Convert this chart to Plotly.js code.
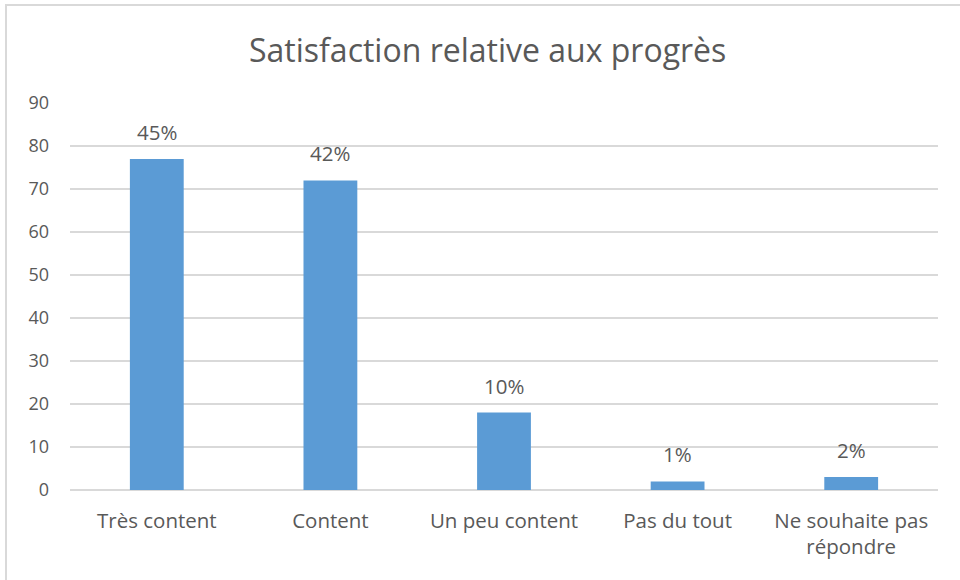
<!DOCTYPE html>
<html>
<head>
<meta charset="utf-8">
<script src="https://cdn.plot.ly/plotly-3.0.1.min.js"></script>
<style>
  html, body { margin: 0; padding: 0; background: #ffffff; }
  #chart { position: absolute; left: 0; top: 0; width: 960px; height: 580px; }
  #frame { position: absolute; left: 5px; top: 4px; width: 960px; height: 580px;
           border-top: 2px solid #d9d9d9; border-left: 2px solid #d9d9d9;
           pointer-events: none; box-sizing: border-box; }
</style>
</head>
<body>
<div id="chart"></div>
<div id="frame"></div>
<script>
// Réponses à la question sur la satisfaction relative aux progrès
const categories = ["Très content", "Content", "Un peu content", "Pas du tout", "Ne souhaite pas<br>répondre"];
const counts = [77, 72, 18, 2, 3];
const percentLabels = ["45%", "42%", "10%", "1%", "2%"];
const yTicks = [0, 10, 20, 30, 40, 50, 60, 70, 80, 90];

const textColor = "#595959";
const fontFamily = "'Open Sans', 'Noto Sans', sans-serif";

const trace = {
  type: "bar",
  x: categories,
  y: counts,
  marker: { color: "#5b9bd5", line: { width: 0 } },
  width: 0.31,
  hoverinfo: "skip"
};

const annotations = categories.map((c, i) => ({
  x: c,
  y: counts[i],
  xref: "x",
  yref: "y",
  text: percentLabels[i],
  showarrow: false,
  yanchor: "bottom",
  yshift: 11,
  font: { family: fontFamily, size: 20.5, color: textColor }
}));

const layout = {
  width: 960,
  height: 580,
  margin: { l: 70, r: 22, t: 103, b: 90 },
  paper_bgcolor: "#ffffff",
  plot_bgcolor: "#ffffff",
  showlegend: false,
  title: {
    text: "Satisfaction relative aux progrès",
    x: 0.508,
    xanchor: "center",
    y: 0.913,
    yanchor: "middle",
    font: { family: fontFamily, size: 32, color: textColor }
  },
  xaxis: {
    type: "category",
    showgrid: false,
    showline: false,
    zeroline: false,
    ticks: "",
    ticklabelstandoff: 16,
    tickfont: { family: fontFamily, size: 20.5, color: textColor }
  },
  yaxis: {
    range: [0, 90],
    tickmode: "array",
    tickvals: yTicks,
    ticktext: yTicks.map(String),
    showgrid: true,
    gridcolor: "#d9d9d9",
    gridwidth: 1.5,
    zeroline: true,
    zerolinecolor: "#d9d9d9",
    zerolinewidth: 1.5,
    showline: false,
    ticks: "",
    ticklabelstandoff: 20,
    tickfont: { family: fontFamily, size: 18, color: textColor }
  },
  annotations: annotations
};

Plotly.newPlot("chart", [trace], layout, { staticPlot: true, displayModeBar: false });
</script>
</body>
</html>
